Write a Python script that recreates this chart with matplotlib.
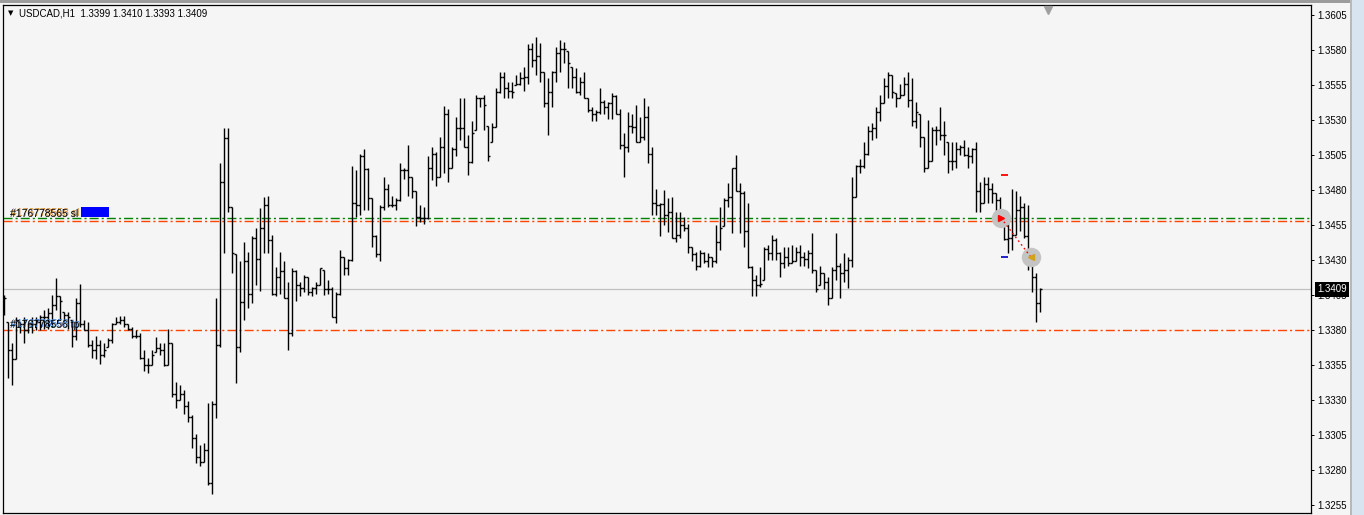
import numpy as np
import matplotlib
matplotlib.use('Agg')
import matplotlib.pyplot as plt
from matplotlib.collections import LineCollection
from matplotlib.patches import Rectangle
from matplotlib.transforms import blended_transform_factory

plt.rcParams['font.family'] = ['Liberation Sans', 'DejaVu Sans']
plt.rcParams['lines.scale_dashes'] = False

# USDCAD H1 bars, oldest first
opens = [
    1.3400, 1.3386, 1.3366, 1.3359, 1.3386, 1.3384, 1.3380, 1.3384, 1.3384, 1.3386,
    1.3389, 1.3389, 1.3392, 1.3398, 1.3404, 1.3393, 1.3391, 1.3387, 1.3376, 1.3399,
    1.3384, 1.3380, 1.3369, 1.3366, 1.3369, 1.3362, 1.3368, 1.3373, 1.3384, 1.3386,
    1.3387, 1.3384, 1.3381, 1.3376, 1.3376, 1.3360, 1.3355, 1.3355, 1.3364, 1.3367,
    1.3366, 1.3355, 1.3371, 1.3334, 1.3330, 1.3334, 1.3326, 1.3318, 1.3303, 1.3289,
    1.3286, 1.3294, 1.3271, 1.3327, 1.3369, 1.3486, 1.3517, 1.3468, 1.3434, 1.3368,
    1.3400, 1.3429, 1.3406, 1.3446, 1.3431, 1.3453, 1.3469, 1.3444, 1.3406, 1.3418,
    1.3422, 1.3403, 1.3378, 1.3422, 1.3412, 1.3410, 1.3418, 1.3407, 1.3410, 1.3412,
    1.3423, 1.3409, 1.3409, 1.3389, 1.3406, 1.3432, 1.3424, 1.3430, 1.3471, 1.3469,
    1.3504, 1.3495, 1.3474, 1.3447, 1.3434, 1.3468, 1.3481, 1.3469, 1.3469, 1.3473,
    1.3494, 1.3494, 1.3489, 1.3479, 1.3461, 1.3460, 1.3460, 1.3496, 1.3506, 1.3489,
    1.3511, 1.3534, 1.3496, 1.3509, 1.3524, 1.3524, 1.3511, 1.3500, 1.3523, 1.3546,
    1.3546, 1.3526, 1.3514, 1.3525, 1.3550, 1.3561, 1.3553, 1.3551, 1.3555, 1.3556,
    1.3560, 1.3561, 1.3581, 1.3573, 1.3576, 1.3564, 1.3542, 1.3550, 1.3564, 1.3578,
    1.3581, 1.3579, 1.3568, 1.3561, 1.3550, 1.3557, 1.3546, 1.3537, 1.3534, 1.3536,
    1.3543, 1.3539, 1.3542, 1.3547, 1.3534, 1.3512, 1.3511, 1.3526, 1.3525, 1.3514,
    1.3518, 1.3532, 1.3506, 1.3471, 1.3469, 1.3470, 1.3462, 1.3464, 1.3446, 1.3448,
    1.3455, 1.3453, 1.3439, 1.3434, 1.3426, 1.3435, 1.3429, 1.3432, 1.3429, 1.3443,
    1.3454, 1.3473, 1.3475, 1.3496, 1.3479, 1.3478, 1.3451, 1.3425, 1.3416, 1.3412,
    1.3416, 1.3438, 1.3435, 1.3444, 1.3435, 1.3428, 1.3432, 1.3428, 1.3429, 1.3436,
    1.3432, 1.3431, 1.3435, 1.3423, 1.3412, 1.3421, 1.3414, 1.3403, 1.3423, 1.3426,
    1.3421, 1.3423, 1.3430, 1.3475, 1.3497, 1.3497, 1.3506, 1.3522, 1.3524, 1.3536,
    1.3542, 1.3554, 1.3562, 1.3549, 1.3546, 1.3548, 1.3556, 1.3544, 1.3529, 1.3534,
    1.3518, 1.3496, 1.3501, 1.3523, 1.3523, 1.3519, 1.3514, 1.3501, 1.3501, 1.3509,
    1.3511, 1.3505, 1.3504, 1.3509, 1.3479, 1.3471, 1.3484, 1.3481, 1.3478, 1.3473,
    1.3460, 1.3445, 1.3446, 1.3448, 1.3466, 1.3468, 1.3447, 1.3431, 1.3418, 1.3399,
]
highs = [
    1.3405, 1.3386, 1.3371, 1.3389, 1.3386, 1.3389, 1.3385, 1.3389, 1.3389, 1.3391,
    1.3394, 1.3396, 1.3405, 1.3417, 1.3404, 1.3393, 1.3393, 1.3387, 1.3403, 1.3413,
    1.3387, 1.3386, 1.3373, 1.3376, 1.3373, 1.3371, 1.3374, 1.3385, 1.3389, 1.3390,
    1.3390, 1.3384, 1.3382, 1.3380, 1.3378, 1.3366, 1.3360, 1.3366, 1.3375, 1.3371,
    1.3371, 1.3381, 1.3371, 1.3343, 1.3341, 1.3337, 1.3329, 1.3319, 1.3306, 1.3298,
    1.3299, 1.3328, 1.3329, 1.3403, 1.3499, 1.3524, 1.3524, 1.3468, 1.3434, 1.3429,
    1.3443, 1.3436, 1.3447, 1.3453, 1.3467, 1.3475, 1.3476, 1.3448, 1.3425, 1.3436,
    1.3429, 1.3414, 1.3424, 1.3423, 1.3414, 1.3419, 1.3418, 1.3411, 1.3414, 1.3424,
    1.3423, 1.3416, 1.3411, 1.3407, 1.3437, 1.3432, 1.3431, 1.3497, 1.3494, 1.3506,
    1.3509, 1.3496, 1.3474, 1.3448, 1.3469, 1.3489, 1.3484, 1.3476, 1.3474, 1.3499,
    1.3496, 1.3512, 1.3489, 1.3479, 1.3469, 1.3468, 1.3504, 1.3511, 1.3507, 1.3518,
    1.3540, 1.3538, 1.3511, 1.3532, 1.3546, 1.3546, 1.3519, 1.3529, 1.3548, 1.3546,
    1.3548, 1.3526, 1.3528, 1.3553, 1.3564, 1.3564, 1.3557, 1.3557, 1.3562, 1.3564,
    1.3568, 1.3584, 1.3585, 1.3589, 1.3585, 1.3564, 1.3560, 1.3565, 1.3582, 1.3587,
    1.3586, 1.3579, 1.3568, 1.3567, 1.3561, 1.3564, 1.3546, 1.3539, 1.3537, 1.3553,
    1.3544, 1.3543, 1.3549, 1.3548, 1.3538, 1.3521, 1.3536, 1.3534, 1.3541, 1.3532,
    1.3546, 1.3540, 1.3511, 1.3481, 1.3471, 1.3480, 1.3474, 1.3475, 1.3464, 1.3464,
    1.3461, 1.3456, 1.3439, 1.3436, 1.3437, 1.3436, 1.3435, 1.3432, 1.3455, 1.3468,
    1.3474, 1.3485, 1.3496, 1.3505, 1.3485, 1.3479, 1.3471, 1.3426, 1.3419, 1.3425,
    1.3439, 1.3441, 1.3448, 1.3446, 1.3436, 1.3439, 1.3439, 1.3441, 1.3439, 1.3441,
    1.3436, 1.3437, 1.3449, 1.3423, 1.3426, 1.3421, 1.3418, 1.3425, 1.3449, 1.3428,
    1.3435, 1.3432, 1.3489, 1.3498, 1.3502, 1.3514, 1.3526, 1.3528, 1.3539, 1.3548,
    1.3560, 1.3564, 1.3562, 1.3549, 1.3556, 1.3561, 1.3564, 1.3560, 1.3543, 1.3534,
    1.3518, 1.3530, 1.3525, 1.3526, 1.3539, 1.3529, 1.3514, 1.3514, 1.3514, 1.3512,
    1.3516, 1.3511, 1.3510, 1.3514, 1.3486, 1.3489, 1.3489, 1.3485, 1.3478, 1.3475,
    1.3461, 1.3462, 1.3481, 1.3479, 1.3476, 1.3471, 1.3469, 1.3432, 1.3421, 1.3410,
]
lows = [
    1.3391, 1.3346, 1.3341, 1.3359, 1.3378, 1.3371, 1.3378, 1.3378, 1.3380, 1.3380,
    1.3381, 1.3381, 1.3382, 1.3394, 1.3387, 1.3386, 1.3381, 1.3368, 1.3373, 1.3382,
    1.3380, 1.3368, 1.3360, 1.3359, 1.3356, 1.3361, 1.3368, 1.3371, 1.3384, 1.3384,
    1.3382, 1.3380, 1.3374, 1.3374, 1.3359, 1.3351, 1.3349, 1.3355, 1.3364, 1.3362,
    1.3354, 1.3355, 1.3332, 1.3324, 1.3330, 1.3320, 1.3314, 1.3296, 1.3285, 1.3283,
    1.3286, 1.3269, 1.3263, 1.3317, 1.3368, 1.3435, 1.3464, 1.3421, 1.3342, 1.3364,
    1.3387, 1.3396, 1.3399, 1.3412, 1.3408, 1.3435, 1.3435, 1.3405, 1.3404, 1.3406,
    1.3403, 1.3366, 1.3376, 1.3401, 1.3404, 1.3407, 1.3405, 1.3404, 1.3406, 1.3412,
    1.3405, 1.3406, 1.3389, 1.3385, 1.3405, 1.3419, 1.3419, 1.3429, 1.3461, 1.3462,
    1.3466, 1.3466, 1.3439, 1.3432, 1.3429, 1.3466, 1.3468, 1.3468, 1.3466, 1.3472,
    1.3488, 1.3476, 1.3474, 1.3454, 1.3457, 1.3456, 1.3459, 1.3487, 1.3483, 1.3489,
    1.3492, 1.3486, 1.3496, 1.3504, 1.3516, 1.3511, 1.3491, 1.3499, 1.3523, 1.3539,
    1.3523, 1.3501, 1.3514, 1.3525, 1.3549, 1.3546, 1.3546, 1.3546, 1.3555, 1.3555,
    1.3551, 1.3556, 1.3568, 1.3562, 1.3557, 1.3539, 1.3519, 1.3539, 1.3557, 1.3564,
    1.3571, 1.3553, 1.3553, 1.3549, 1.3548, 1.3546, 1.3536, 1.3529, 1.3529, 1.3534,
    1.3534, 1.3531, 1.3531, 1.3534, 1.3509, 1.3489, 1.3507, 1.3521, 1.3514, 1.3514,
    1.3516, 1.3499, 1.3462, 1.3462, 1.3447, 1.3455, 1.3450, 1.3446, 1.3443, 1.3446,
    1.3451, 1.3435, 1.3429, 1.3423, 1.3425, 1.3428, 1.3425, 1.3425, 1.3428, 1.3437,
    1.3454, 1.3468, 1.3449, 1.3479, 1.3449, 1.3439, 1.3424, 1.3404, 1.3404, 1.3411,
    1.3416, 1.3430, 1.3430, 1.3430, 1.3418, 1.3424, 1.3426, 1.3428, 1.3429, 1.3426,
    1.3426, 1.3424, 1.3421, 1.3407, 1.3412, 1.3409, 1.3398, 1.3403, 1.3416, 1.3403,
    1.3414, 1.3410, 1.3425, 1.3475, 1.3492, 1.3496, 1.3505, 1.3516, 1.3517, 1.3529,
    1.3542, 1.3546, 1.3546, 1.3539, 1.3546, 1.3548, 1.3539, 1.3526, 1.3524, 1.3511,
    1.3493, 1.3496, 1.3501, 1.3512, 1.3516, 1.3505, 1.3492, 1.3494, 1.3496, 1.3505,
    1.3504, 1.3496, 1.3499, 1.3464, 1.3464, 1.3471, 1.3471, 1.3471, 1.3456, 1.3454,
    1.3444, 1.3435, 1.3437, 1.3448, 1.3451, 1.3446, 1.3423, 1.3407, 1.3386, 1.3393,
]
closes = [
    1.3403, 1.3366, 1.3359, 1.3387, 1.3384, 1.3380, 1.3384, 1.3384, 1.3386, 1.3389,
    1.3389, 1.3392, 1.3398, 1.3404, 1.3401, 1.3391, 1.3389, 1.3376, 1.3399, 1.3384,
    1.3380, 1.3369, 1.3366, 1.3369, 1.3362, 1.3366, 1.3373, 1.3384, 1.3386, 1.3387,
    1.3384, 1.3381, 1.3376, 1.3376, 1.3360, 1.3355, 1.3355, 1.3362, 1.3367, 1.3366,
    1.3355, 1.3371, 1.3334, 1.3330, 1.3334, 1.3326, 1.3318, 1.3303, 1.3289, 1.3286,
    1.3294, 1.3271, 1.3327, 1.3369, 1.3486, 1.3517, 1.3468, 1.3435, 1.3368, 1.3400,
    1.3429, 1.3406, 1.3446, 1.3431, 1.3453, 1.3469, 1.3444, 1.3406, 1.3418, 1.3422,
    1.3403, 1.3378, 1.3422, 1.3412, 1.3410, 1.3418, 1.3407, 1.3410, 1.3412, 1.3424,
    1.3409, 1.3409, 1.3389, 1.3406, 1.3432, 1.3424, 1.3430, 1.3471, 1.3469, 1.3504,
    1.3495, 1.3474, 1.3447, 1.3434, 1.3468, 1.3481, 1.3469, 1.3469, 1.3473, 1.3494,
    1.3494, 1.3489, 1.3479, 1.3461, 1.3460, 1.3460, 1.3496, 1.3506, 1.3489, 1.3511,
    1.3534, 1.3496, 1.3509, 1.3524, 1.3524, 1.3511, 1.3500, 1.3521, 1.3546, 1.3546,
    1.3541, 1.3504, 1.3525, 1.3550, 1.3561, 1.3553, 1.3551, 1.3550, 1.3556, 1.3560,
    1.3561, 1.3581, 1.3573, 1.3576, 1.3564, 1.3542, 1.3550, 1.3564, 1.3578, 1.3581,
    1.3581, 1.3571, 1.3561, 1.3550, 1.3557, 1.3546, 1.3537, 1.3534, 1.3536, 1.3543,
    1.3539, 1.3542, 1.3547, 1.3534, 1.3512, 1.3511, 1.3526, 1.3525, 1.3514, 1.3518,
    1.3532, 1.3506, 1.3471, 1.3469, 1.3470, 1.3462, 1.3464, 1.3446, 1.3448, 1.3455,
    1.3453, 1.3439, 1.3434, 1.3426, 1.3435, 1.3429, 1.3432, 1.3429, 1.3443, 1.3453,
    1.3473, 1.3475, 1.3496, 1.3479, 1.3478, 1.3451, 1.3425, 1.3416, 1.3412, 1.3413,
    1.3438, 1.3435, 1.3444, 1.3435, 1.3428, 1.3432, 1.3428, 1.3429, 1.3436, 1.3432,
    1.3431, 1.3435, 1.3423, 1.3409, 1.3421, 1.3414, 1.3403, 1.3423, 1.3426, 1.3421,
    1.3423, 1.3430, 1.3475, 1.3497, 1.3497, 1.3506, 1.3522, 1.3524, 1.3536, 1.3542,
    1.3554, 1.3562, 1.3550, 1.3546, 1.3548, 1.3556, 1.3544, 1.3529, 1.3536, 1.3518,
    1.3496, 1.3501, 1.3523, 1.3523, 1.3519, 1.3519, 1.3501, 1.3501, 1.3509, 1.3511,
    1.3505, 1.3504, 1.3509, 1.3479, 1.3471, 1.3484, 1.3481, 1.3478, 1.3473, 1.3460,
    1.3445, 1.3446, 1.3448, 1.3466, 1.3468, 1.3447, 1.3431, 1.3418, 1.3399, 1.3409,
]

title = 'USDCAD,H1  1.3399 1.3410 1.3393 1.3409'
bid = 1.3409
price_ticks = [1.3605, 1.3580, 1.3555, 1.3530, 1.3505, 1.3480, 1.3455,
               1.3430, 1.3405, 1.3380, 1.3355, 1.3330, 1.3305, 1.3280, 1.3255]

# pending order lines
open_price = 1.3460
sl_price = 1.3458
tp_price = 1.3380
sl_labels = ['#176778565 sl', '#176778558 sl']
tp_labels = ['#176778556 tp', '#176778558 tp']

# closed trade arrows (bar position, price)
trade_bars = [249.25, 256.75]
trade_prices = [1.3460, 1.3432]
trade_sl = 1.3491
trade_tp = 1.3432
shift_bar = 261

# figure / pixel layout
W, H = 1364, 515
fig = plt.figure(figsize=(W / 100, H / 100), dpi=100, facecolor='#f5f5f5')
ax = fig.add_axes([3 / W, (H - 513) / H, 1308 / W, 508 / H])
ax.set_facecolor('#f5f5f5')
ax.set_xlim(-0.25, 326.75)
ax.set_ylim(1.3605 - 498 / 14000, 1.3605 + 10 / 14000)

# window chrome
fig.add_artist(Rectangle((0, 1 - 2.5 / H), 1351 / W, 2.5 / H, transform=fig.transFigure,
                         color='#9c9c9c', lw=0))
fig.add_artist(Rectangle((1351 / W, 0), 13 / W, 1, transform=fig.transFigure,
                         color='#d9e4f1', lw=0))
fig.add_artist(Rectangle((1350 / W, 0), 1.5 / W, 1, transform=fig.transFigure,
                         color='#b8b8b8', lw=0))

# OHLC bars
x = np.arange(len(closes))
o = np.array(opens)
h = np.array(highs)
l = np.array(lows)
c = np.array(closes)
segs = []
for i in range(len(x)):
    segs.append([(x[i], l[i]), (x[i], h[i])])
    segs.append([(x[i] - 0.4, o[i]), (x[i], o[i])])
    segs.append([(x[i], c[i]), (x[i] + 0.4, c[i])])
ax.add_collection(LineCollection(segs, colors='black', linewidths=1.0, zorder=3))

# bid line
ax.axhline(bid, color='#c0c0c0', lw=0.9, zorder=1)

# order lines
dashdot = (0, (6.5, 2.2, 1.5, 2.2))
ax.axhline(open_price, color='#008000', lw=1.0, ls=dashdot, zorder=2)
ax.axhline(sl_price, color='#ff4500', lw=1.0, ls=dashdot, zorder=2)
ax.axhline(tp_price, color='#ff4500', lw=1.0, ls=dashdot, zorder=2)

bt = blended_transform_factory(ax.transAxes, ax.transData)
lx = 7 / 1308
ax.annotate(sl_labels[1], xy=(lx, open_price), xycoords=bt, xytext=(1, 1.3),
            textcoords='offset points', fontsize=7.5, color='#d08a2a', va='baseline', zorder=4)
ax.annotate(sl_labels[0], xy=(lx, open_price), xycoords=bt, xytext=(0, 0.7),
            textcoords='offset points', fontsize=7.5, color='black', va='baseline', zorder=4)
ax.add_patch(Rectangle((19.25, open_price + 0.00006), 7.0, 0.0007, color='#0000ff', lw=0, zorder=4))
ax.annotate(tp_labels[1], xy=(lx, tp_price), xycoords=bt, xytext=(1, 2.2),
            textcoords='offset points', fontsize=7.5, color='#3b7bd0', va='baseline', zorder=4)
ax.annotate(tp_labels[0], xy=(lx, tp_price), xycoords=bt, xytext=(0, 1.6),
            textcoords='offset points', fontsize=7.5, color='black', va='baseline', zorder=4)

# closed trade
ax.plot(trade_bars, trade_prices, ls='none', marker='o', ms=14, color='#c4c4c4', mec='none', zorder=4)
ax.plot(trade_bars, trade_prices, color='red', lw=1.0, ls=(0, (1.2, 2.2)), zorder=5)
ax.plot(trade_bars[0], trade_prices[0], marker='>', ms=5, color='red', zorder=6)
ax.plot(trade_bars[1], trade_prices[1], marker='<', ms=5, color='#d4a020', zorder=6)
ax.hlines(trade_sl, trade_bars[0], trade_bars[0] + 1.75, color='red', lw=1.3, zorder=5)
ax.hlines(trade_tp, trade_bars[0], trade_bars[0] + 1.75, color='#1010c0', lw=1.3, zorder=5)

# chart shift marker
ax.plot(shift_bar, 0.99, marker='v', ms=6, color='#a0a0a0',
        transform=blended_transform_factory(ax.transData, ax.transAxes), clip_on=False, zorder=6)

# axes styling
for s in ax.spines.values():
    s.set_color('black')
    s.set_linewidth(0.9)
ax.set_xticks([])
ax.yaxis.tick_right()
ax.set_yticks(price_ticks)
ax.set_yticklabels([f'{t:.4f}' for t in price_ticks])
ax.tick_params(axis='y', direction='out', length=2.5, width=0.7, pad=2.2,
               labelsize=7, colors='black')

# bid price box
ax.annotate(f'{bid:.4f}', xy=(1, bid), xycoords=bt, xytext=(4.7, 0),
            textcoords='offset points', fontsize=7, color='white', va='center', ha='left',
            bbox=dict(boxstyle='square,pad=0.22', fc='black', ec='none'),
            annotation_clip=False, zorder=10)

# header
fig.text(11 / W, 1 - 13.5 / H, '▼', fontsize=5, color='black', ha='center', va='center',
         family='DejaVu Sans')
fig.text(19 / W, 1 - 13.5 / H, title, fontsize=7, color='black', ha='left', va='center')

fig.savefig('out.png', dpi=100, facecolor=fig.get_facecolor())
